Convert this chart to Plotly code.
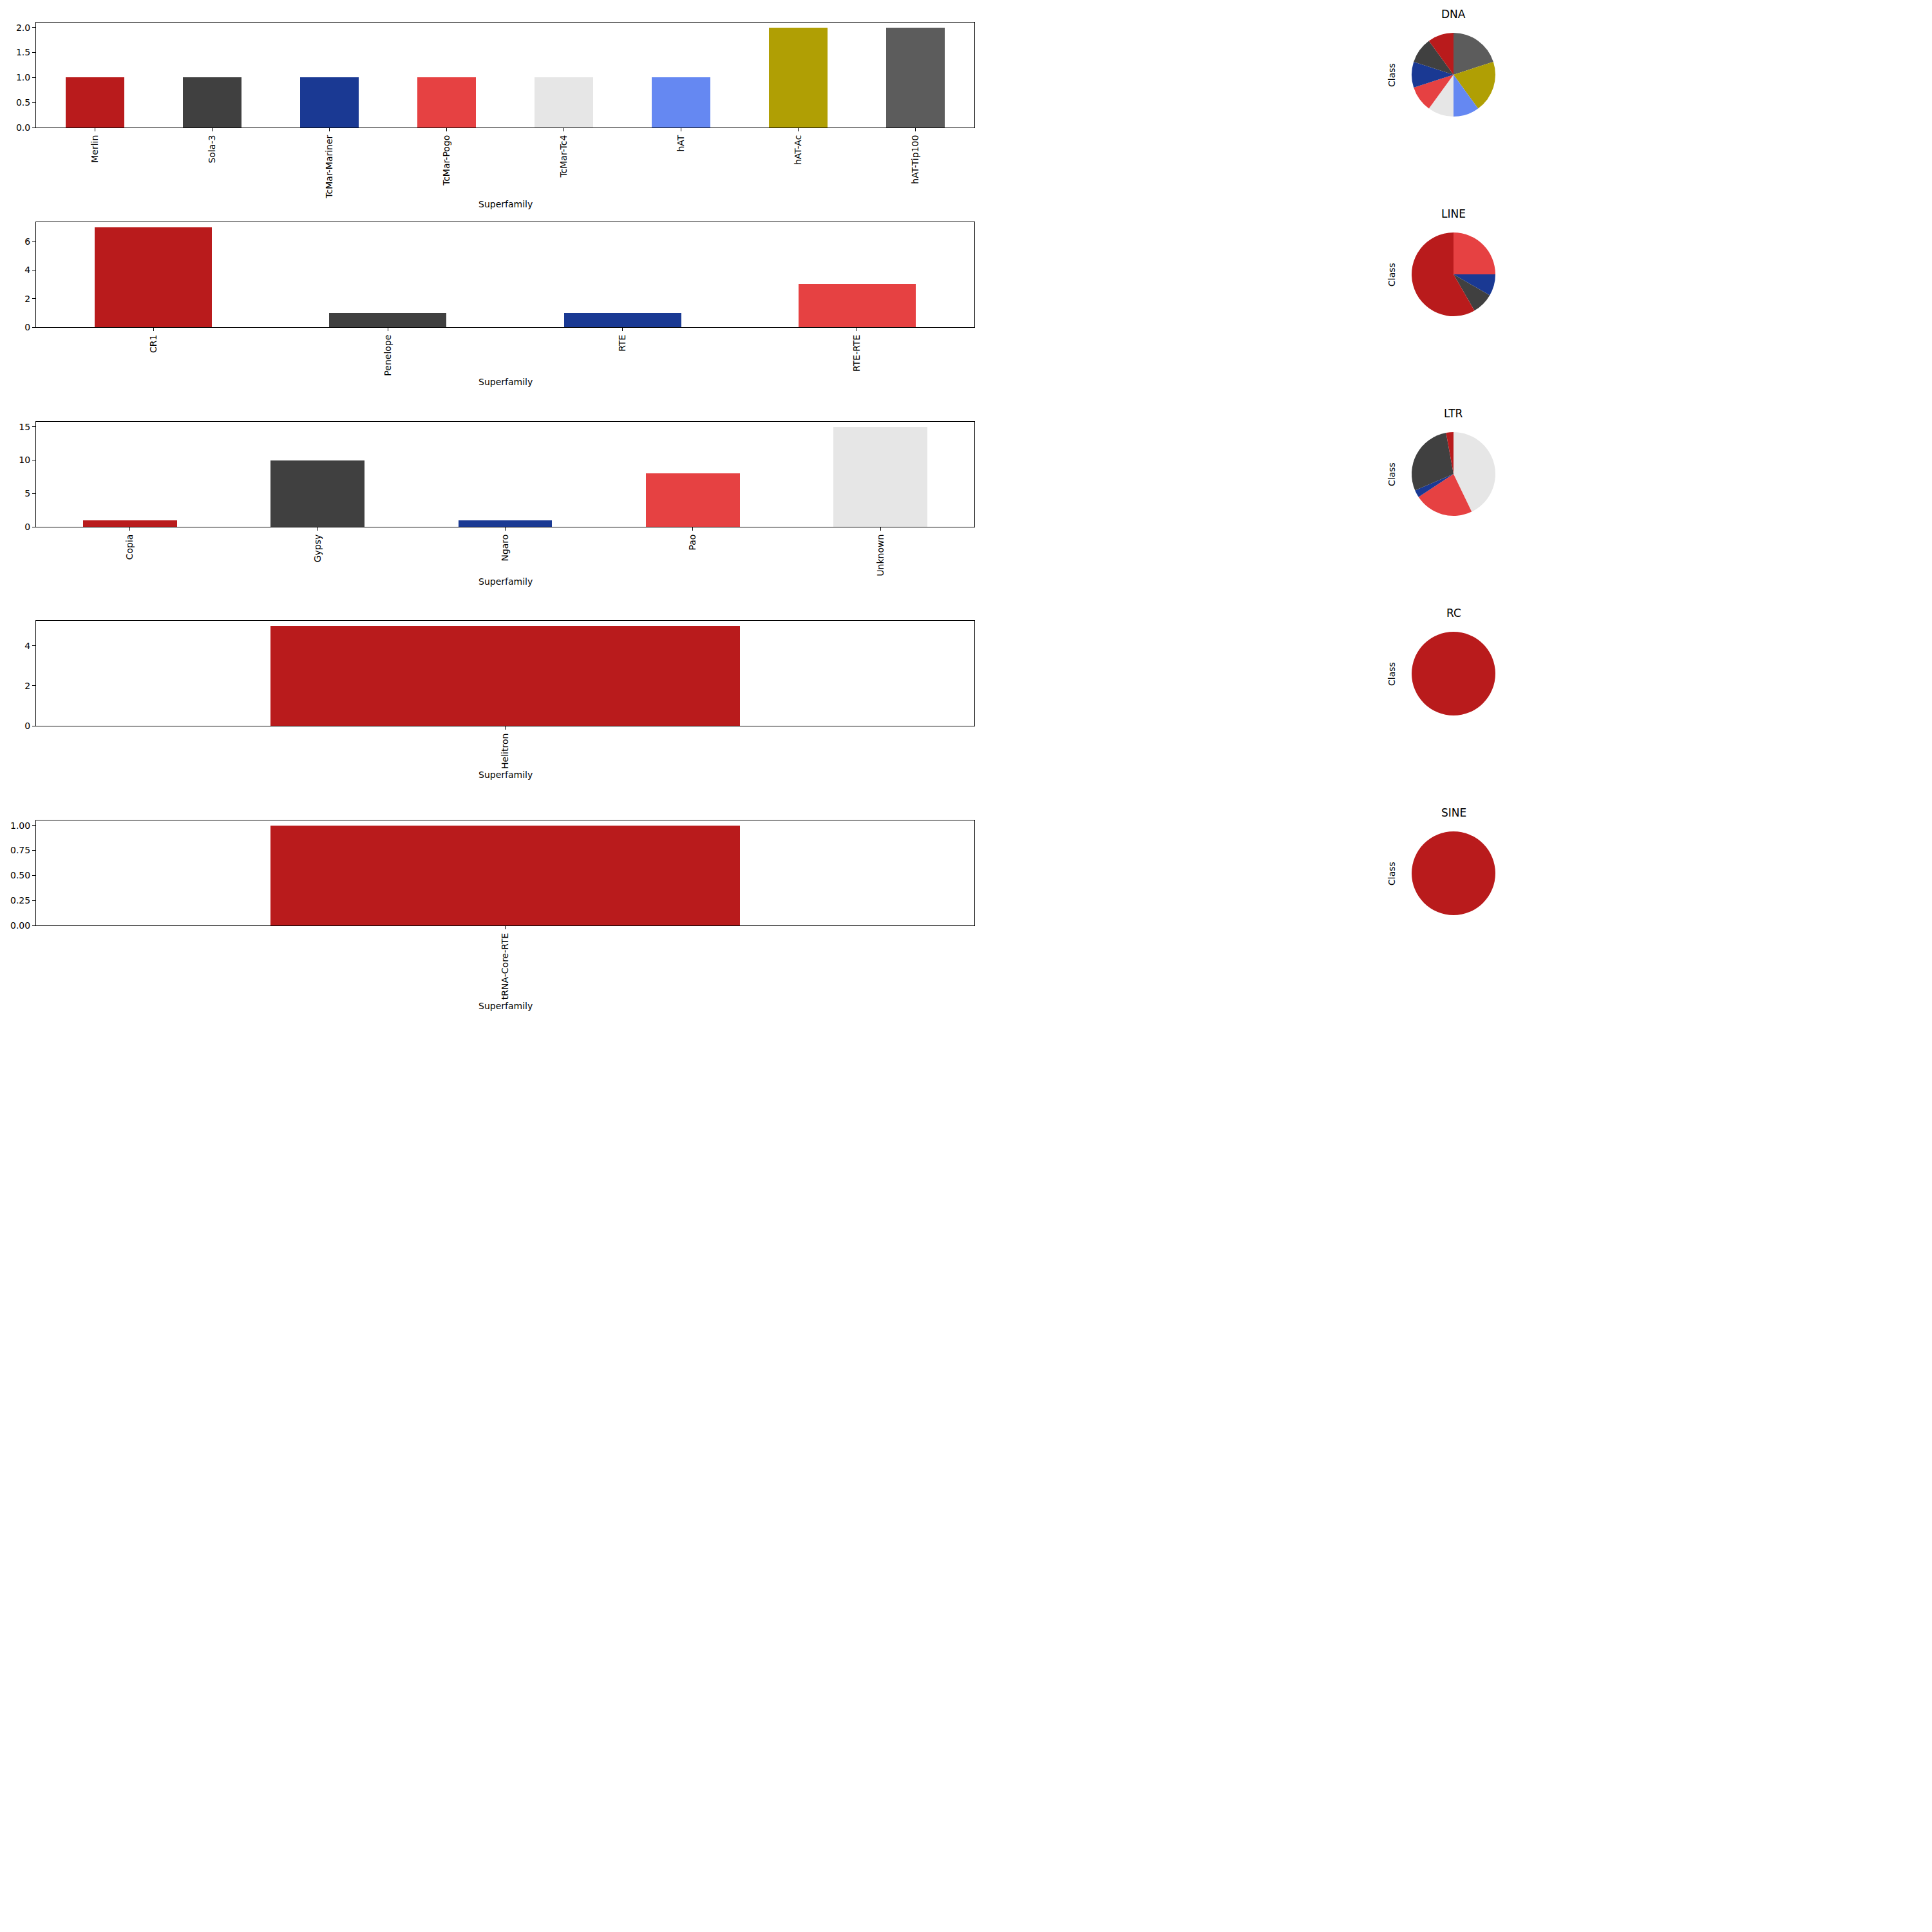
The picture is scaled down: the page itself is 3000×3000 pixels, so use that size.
import plotly.graph_objects as go

# ---------------- data ----------------
classes = ["DNA", "LINE", "LTR", "RC", "SINE"]

dna_superfamilies = ["Merlin", "Sola-3", "TcMar-Mariner", "TcMar-Pogo", "TcMar-Tc4", "hAT", "hAT-Ac", "hAT-Tip100"]
dna_counts = [1, 1, 1, 1, 1, 1, 2, 2]

line_superfamilies = ["CR1", "Penelope", "RTE", "RTE-RTE"]
line_counts = [7, 1, 1, 3]

ltr_superfamilies = ["Copia", "Gypsy", "Ngaro", "Pao", "Unknown"]
ltr_counts = [1, 10, 1, 8, 15]

rc_superfamilies = ["Helitron"]
rc_counts = [5]

sine_superfamilies = ["tRNA-Core-RTE"]
sine_counts = [1]

palette = ["#B91B1C", "#404040", "#1A3993", "#E64142", "#E6E6E6", "#6588F2", "#B09F04", "#5C5C5C"]

groups = [
    (dna_superfamilies, dna_counts),
    (line_superfamilies, line_counts),
    (ltr_superfamilies, ltr_counts),
    (rc_superfamilies, rc_counts),
    (sine_superfamilies, sine_counts),
]

# ---------------- layout geometry (pixels) ----------------
W = H = 3000
bar_left, bar_right = 56, 1513
bar_tops = [35, 345, 655, 964, 1274]
bar_h = 163
pie_cx, pie_r = 2257, 65
pie_cy = [116, 426, 736, 1046, 1356]
xlabel_y = [317, 593, 903, 1203, 1562]
tick_dticks = [0.5, 2, 5, 2, 0.25]
tick_formats = [".1f", "d", "d", "d", ".2f"]


def px_x(v):
    return v / W


def px_y(v):
    return 1 - v / H


fig = go.Figure()
annotations = []
layout_axes = {}

for i, ((cats, vals), cls) in enumerate(zip(groups, classes)):
    n = i + 1
    xa = "x" if n == 1 else f"x{n}"
    ya = "y" if n == 1 else f"y{n}"
    colors = [palette[k % len(palette)] for k in range(len(cats))]
    fig.add_trace(go.Bar(
        x=cats, y=vals, width=0.5, marker=dict(color=colors, line=dict(width=0)),
        xaxis=xa, yaxis=ya, showlegend=False,
    ))
    top = bar_tops[i]
    layout_axes[f"xaxis{'' if n == 1 else n}"] = dict(
        domain=[px_x(bar_left), px_x(bar_right)], anchor=ya, type="category",
        range=[-0.5, len(cats) - 0.5], showline=True, mirror=True, linecolor="black",
        linewidth=1.1, ticks="outside", ticklen=5, tickwidth=1, tickcolor="black",
        tickangle=-90, showgrid=False, zeroline=False,
        tickfont=dict(family="DejaVu Sans", size=14, color="black"),
    )
    layout_axes[f"yaxis{'' if n == 1 else n}"] = dict(
        domain=[px_y(top + bar_h), px_y(top)], anchor=xa,
        range=[0, max(vals) * 1.05], showline=True, mirror=True, linecolor="black",
        linewidth=1.1, ticks="outside", ticklen=5, tickwidth=1, tickcolor="black",
        dtick=tick_dticks[i], tick0=0, tickformat=tick_formats[i],
        showgrid=False, zeroline=False,
        tickfont=dict(family="DejaVu Sans", size=14, color="black"),
    )
    annotations.append(dict(
        text="Superfamily", x=px_x((bar_left + bar_right) / 2), y=px_y(xlabel_y[i]),
        xref="paper", yref="paper", showarrow=False, xanchor="center", yanchor="middle",
        font=dict(family="DejaVu Sans", size=14, color="black"),
    ))

    # pie: first category starts at 12 o'clock and runs counterclockwise
    # (equivalently: reversed order running clockwise from 12 o'clock)
    cy = pie_cy[i]
    fig.add_trace(go.Pie(
        labels=cats[::-1], values=vals[::-1], sort=False, direction="clockwise", rotation=0,
        marker=dict(colors=colors[::-1], line=dict(width=0)), textinfo="none",
        domain=dict(x=[px_x(pie_cx - pie_r), px_x(pie_cx + pie_r)],
                    y=[px_y(cy + pie_r), px_y(cy - pie_r)]),
        showlegend=False, hoverinfo="label+value",
    ))
    annotations.append(dict(
        text=cls, x=px_x(pie_cx), y=px_y(cy - 94), xref="paper", yref="paper",
        showarrow=False, xanchor="center", yanchor="middle",
        font=dict(family="DejaVu Sans", size=17, color="black"),
    ))
    annotations.append(dict(
        text="Class", x=px_x(2161), y=px_y(cy + 1), xref="paper", yref="paper",
        showarrow=False, xanchor="center", yanchor="middle", textangle=-90,
        font=dict(family="DejaVu Sans", size=14, color="black"),
    ))

fig.update_layout(
    width=W, height=H, margin=dict(l=0, r=0, t=0, b=0),
    template="none", paper_bgcolor="white", plot_bgcolor="white",
    font=dict(family="DejaVu Sans", size=14, color="black"),
    showlegend=False, bargap=0,
    annotations=annotations,
    **layout_axes,
)

fig.write_html("out.html")
